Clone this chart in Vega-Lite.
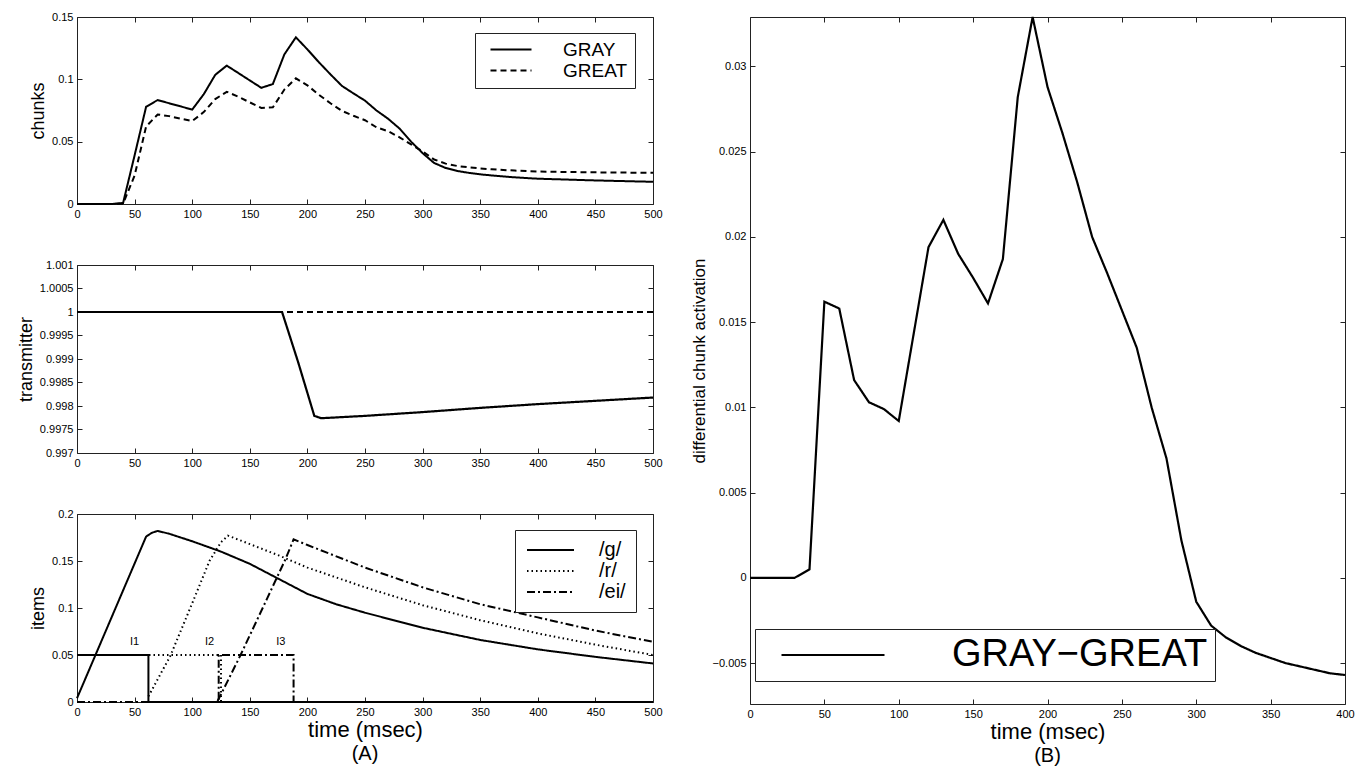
{
  "$schema": "https://vega.github.io/schema/vega-lite/v6.json",
  "background": "white",
  "padding": {"left": 16, "top": 10, "right": 0, "bottom": 0},
  "config": {
    "font": "Liberation Sans",
    "view": {"stroke": "#222", "strokeWidth": 1},
    "axis": {
      "domain": false, "grid": false, "ticks": true, "tickColor": "#222", "tickSize": 5, "tickWidth": 1, "offset": -5,
      "labelFont": "Liberation Sans", "labelFontSize": 11, "labelColor": "black", "labelFlush": false, "labelOverlap": false,
      "labelPadding": 4, "titleFont": "Liberation Sans", "titleFontSize": 18, "titleFontWeight": "normal",
      "titleColor": "black", "titlePadding": 4
    },
    "legend": {
      "title": null, "strokeColor": "#222", "fillColor": "white", "symbolStrokeColor": "black",
      "symbolStrokeWidth": 2, "symbolFillColor": "transparent", "labelFont": "Liberation Sans", "labelColor": "black",
      "rowPadding": 1, "labelLimit": 0
    },
    "title": {"font": "Liberation Sans", "fontWeight": "normal", "color": "black", "fontSize": 20}
  },
  "datasets": {
    "chunks": [
      {"t": 0, "series": "GRAY", "v": 0}, {"t": 10, "series": "GRAY", "v": 0}, {"t": 20, "series": "GRAY", "v": 0},
      {"t": 30, "series": "GRAY", "v": 0}, {"t": 40, "series": "GRAY", "v": 0.0008}, {"t": 50, "series": "GRAY", "v": 0.039},
      {"t": 60, "series": "GRAY", "v": 0.078}, {"t": 70, "series": "GRAY", "v": 0.0834}, {"t": 80, "series": "GRAY", "v": 0.0808},
      {"t": 90, "series": "GRAY", "v": 0.0783}, {"t": 100, "series": "GRAY", "v": 0.0757}, {"t": 110, "series": "GRAY", "v": 0.088},
      {"t": 120, "series": "GRAY", "v": 0.1036}, {"t": 130, "series": "GRAY", "v": 0.111}, {"t": 140, "series": "GRAY", "v": 0.1051},
      {"t": 150, "series": "GRAY", "v": 0.0991}, {"t": 160, "series": "GRAY", "v": 0.0932}, {"t": 170, "series": "GRAY", "v": 0.0962},
      {"t": 180, "series": "GRAY", "v": 0.12}, {"t": 190, "series": "GRAY", "v": 0.1337}, {"t": 200, "series": "GRAY", "v": 0.124},
      {"t": 210, "series": "GRAY", "v": 0.1137}, {"t": 220, "series": "GRAY", "v": 0.104}, {"t": 230, "series": "GRAY", "v": 0.0947},
      {"t": 240, "series": "GRAY", "v": 0.0887}, {"t": 250, "series": "GRAY", "v": 0.0829}, {"t": 260, "series": "GRAY", "v": 0.075},
      {"t": 270, "series": "GRAY", "v": 0.0684}, {"t": 280, "series": "GRAY", "v": 0.0605}, {"t": 290, "series": "GRAY", "v": 0.05},
      {"t": 300, "series": "GRAY", "v": 0.0408}, {"t": 310, "series": "GRAY", "v": 0.0329}, {"t": 320, "series": "GRAY", "v": 0.0289},
      {"t": 330, "series": "GRAY", "v": 0.0265}, {"t": 340, "series": "GRAY", "v": 0.025}, {"t": 350, "series": "GRAY", "v": 0.0238},
      {"t": 360, "series": "GRAY", "v": 0.0229}, {"t": 370, "series": "GRAY", "v": 0.0221}, {"t": 380, "series": "GRAY", "v": 0.0214},
      {"t": 390, "series": "GRAY", "v": 0.0208}, {"t": 400, "series": "GRAY", "v": 0.0203}, {"t": 450, "series": "GRAY", "v": 0.0189},
      {"t": 500, "series": "GRAY", "v": 0.0178},
      {"t": 0, "series": "GREAT", "v": 0}, {"t": 10, "series": "GREAT", "v": 0}, {"t": 20, "series": "GREAT", "v": 0},
      {"t": 30, "series": "GREAT", "v": 0}, {"t": 40, "series": "GREAT", "v": 0.0003}, {"t": 50, "series": "GREAT", "v": 0.0228},
      {"t": 60, "series": "GREAT", "v": 0.0622}, {"t": 70, "series": "GREAT", "v": 0.0718}, {"t": 80, "series": "GREAT", "v": 0.0705},
      {"t": 90, "series": "GREAT", "v": 0.0684}, {"t": 100, "series": "GREAT", "v": 0.0665}, {"t": 110, "series": "GREAT", "v": 0.0737},
      {"t": 120, "series": "GREAT", "v": 0.0842}, {"t": 130, "series": "GREAT", "v": 0.09}, {"t": 140, "series": "GREAT", "v": 0.0861},
      {"t": 150, "series": "GREAT", "v": 0.0815}, {"t": 160, "series": "GREAT", "v": 0.0771}, {"t": 170, "series": "GREAT", "v": 0.0775},
      {"t": 180, "series": "GREAT", "v": 0.0918}, {"t": 190, "series": "GREAT", "v": 0.1008}, {"t": 200, "series": "GREAT", "v": 0.0952},
      {"t": 210, "series": "GREAT", "v": 0.0876}, {"t": 220, "series": "GREAT", "v": 0.0808}, {"t": 230, "series": "GREAT", "v": 0.0747},
      {"t": 240, "series": "GREAT", "v": 0.0708}, {"t": 250, "series": "GREAT", "v": 0.0672}, {"t": 260, "series": "GREAT", "v": 0.0615},
      {"t": 270, "series": "GREAT", "v": 0.0584}, {"t": 280, "series": "GREAT", "v": 0.0535}, {"t": 290, "series": "GREAT", "v": 0.0478},
      {"t": 300, "series": "GREAT", "v": 0.0422}, {"t": 310, "series": "GREAT", "v": 0.0357}, {"t": 320, "series": "GREAT", "v": 0.0324},
      {"t": 330, "series": "GREAT", "v": 0.0305}, {"t": 340, "series": "GREAT", "v": 0.0294}, {"t": 350, "series": "GREAT", "v": 0.0285},
      {"t": 360, "series": "GREAT", "v": 0.0279}, {"t": 370, "series": "GREAT", "v": 0.0273}, {"t": 380, "series": "GREAT", "v": 0.0268},
      {"t": 390, "series": "GREAT", "v": 0.0264}, {"t": 400, "series": "GREAT", "v": 0.026}, {"t": 450, "series": "GREAT", "v": 0.0254},
      {"t": 500, "series": "GREAT", "v": 0.025}
    ],
    "transmitter": [
      {"series": "GRAY", "t": 0, "v": 1}, {"series": "GRAY", "t": 178, "v": 1}, {"series": "GRAY", "t": 192, "v": 0.99893},
      {"series": "GRAY", "t": 206, "v": 0.99779}, {"series": "GRAY", "t": 212, "v": 0.99774}, {"series": "GRAY", "t": 250, "v": 0.99779},
      {"series": "GRAY", "t": 300, "v": 0.99787}, {"series": "GRAY", "t": 350, "v": 0.99796}, {"series": "GRAY", "t": 400, "v": 0.99804},
      {"series": "GRAY", "t": 450, "v": 0.99811}, {"series": "GRAY", "t": 500, "v": 0.99818},
      {"series": "GREAT", "t": 0, "v": 1}, {"series": "GREAT", "t": 500, "v": 1}
    ],
    "items": [
      {"line": "g", "series": "/g/", "i": 0, "t": 0, "v": 0.004}, {"line": "g", "series": "/g/", "i": 1, "t": 60, "v": 0.176},
      {"line": "g", "series": "/g/", "i": 2, "t": 65, "v": 0.18}, {"line": "g", "series": "/g/", "i": 3, "t": 70, "v": 0.182},
      {"line": "g", "series": "/g/", "i": 4, "t": 80, "v": 0.179}, {"line": "g", "series": "/g/", "i": 5, "t": 100, "v": 0.171},
      {"line": "g", "series": "/g/", "i": 6, "t": 125, "v": 0.16}, {"line": "g", "series": "/g/", "i": 7, "t": 150, "v": 0.147},
      {"line": "g", "series": "/g/", "i": 8, "t": 175, "v": 0.131}, {"line": "g", "series": "/g/", "i": 9, "t": 200, "v": 0.115},
      {"line": "g", "series": "/g/", "i": 10, "t": 225, "v": 0.104}, {"line": "g", "series": "/g/", "i": 11, "t": 250, "v": 0.095},
      {"line": "g", "series": "/g/", "i": 12, "t": 275, "v": 0.087}, {"line": "g", "series": "/g/", "i": 13, "t": 300, "v": 0.079},
      {"line": "g", "series": "/g/", "i": 14, "t": 350, "v": 0.066}, {"line": "g", "series": "/g/", "i": 15, "t": 400, "v": 0.056},
      {"line": "g", "series": "/g/", "i": 16, "t": 450, "v": 0.048}, {"line": "g", "series": "/g/", "i": 17, "t": 500, "v": 0.041},
      {"line": "r", "series": "/r/", "i": 0, "t": 62, "v": 0.006}, {"line": "r", "series": "/r/", "i": 1, "t": 81, "v": 0.049},
      {"line": "r", "series": "/r/", "i": 2, "t": 100, "v": 0.105}, {"line": "r", "series": "/r/", "i": 3, "t": 115, "v": 0.15},
      {"line": "r", "series": "/r/", "i": 4, "t": 125, "v": 0.17}, {"line": "r", "series": "/r/", "i": 5, "t": 131, "v": 0.177},
      {"line": "r", "series": "/r/", "i": 6, "t": 150, "v": 0.168}, {"line": "r", "series": "/r/", "i": 7, "t": 175, "v": 0.156},
      {"line": "r", "series": "/r/", "i": 8, "t": 200, "v": 0.143}, {"line": "r", "series": "/r/", "i": 9, "t": 250, "v": 0.122},
      {"line": "r", "series": "/r/", "i": 10, "t": 300, "v": 0.103}, {"line": "r", "series": "/r/", "i": 11, "t": 350, "v": 0.087},
      {"line": "r", "series": "/r/", "i": 12, "t": 400, "v": 0.073}, {"line": "r", "series": "/r/", "i": 13, "t": 450, "v": 0.061},
      {"line": "r", "series": "/r/", "i": 14, "t": 500, "v": 0.05},
      {"line": "ei", "series": "/ei/", "i": 0, "t": 122, "v": 0.001}, {"line": "ei", "series": "/ei/", "i": 1, "t": 127, "v": 0.013},
      {"line": "ei", "series": "/ei/", "i": 2, "t": 142, "v": 0.05}, {"line": "ei", "series": "/ei/", "i": 3, "t": 165, "v": 0.11},
      {"line": "ei", "series": "/ei/", "i": 4, "t": 181, "v": 0.152}, {"line": "ei", "series": "/ei/", "i": 5, "t": 188, "v": 0.173},
      {"line": "ei", "series": "/ei/", "i": 6, "t": 200, "v": 0.167}, {"line": "ei", "series": "/ei/", "i": 7, "t": 250, "v": 0.143},
      {"line": "ei", "series": "/ei/", "i": 8, "t": 300, "v": 0.122}, {"line": "ei", "series": "/ei/", "i": 9, "t": 350, "v": 0.104},
      {"line": "ei", "series": "/ei/", "i": 10, "t": 400, "v": 0.09}, {"line": "ei", "series": "/ei/", "i": 11, "t": 450, "v": 0.076},
      {"line": "ei", "series": "/ei/", "i": 12, "t": 500, "v": 0.064},
      {"line": "I1", "series": "/g/", "i": 0, "t": 0, "v": 0.05}, {"line": "I1", "series": "/g/", "i": 1, "t": 62, "v": 0.05},
      {"line": "I1", "series": "/g/", "i": 2, "t": 62, "v": 0}, {"line": "I1", "series": "/g/", "i": 3, "t": 500, "v": 0},
      {"line": "I2", "series": "/r/", "i": 0, "t": 0, "v": 0.05}, {"line": "I2", "series": "/r/", "i": 1, "t": 125, "v": 0.05},
      {"line": "I2", "series": "/r/", "i": 2, "t": 125, "v": 0}, {"line": "I2", "series": "/r/", "i": 3, "t": 500, "v": 0},
      {"line": "I3", "series": "/ei/", "i": 0, "t": 0, "v": 0}, {"line": "I3", "series": "/ei/", "i": 1, "t": 123, "v": 0},
      {"line": "I3", "series": "/ei/", "i": 2, "t": 123, "v": 0.05}, {"line": "I3", "series": "/ei/", "i": 3, "t": 188, "v": 0.05},
      {"line": "I3", "series": "/ei/", "i": 4, "t": 188, "v": 0}, {"line": "I3", "series": "/ei/", "i": 5, "t": 500, "v": 0}
    ],
    "inputLabels": [
      {"t": 50, "v": 0.059, "label": "I1"}, {"t": 115, "v": 0.059, "label": "I2"}, {"t": 177, "v": 0.059, "label": "I3"}
    ],
    "diff": [
      {"t": 0, "series": "GRAY−GREAT", "v": 0}, {"t": 10, "series": "GRAY−GREAT", "v": 0}, {"t": 20, "series": "GRAY−GREAT", "v": 0},
      {"t": 30, "series": "GRAY−GREAT", "v": 0}, {"t": 40, "series": "GRAY−GREAT", "v": 0.0005}, {"t": 50, "series": "GRAY−GREAT", "v": 0.0162},
      {"t": 60, "series": "GRAY−GREAT", "v": 0.0158}, {"t": 70, "series": "GRAY−GREAT", "v": 0.0116}, {"t": 80, "series": "GRAY−GREAT", "v": 0.0103},
      {"t": 90, "series": "GRAY−GREAT", "v": 0.0099}, {"t": 100, "series": "GRAY−GREAT", "v": 0.0092}, {"t": 120, "series": "GRAY−GREAT", "v": 0.0194},
      {"t": 130, "series": "GRAY−GREAT", "v": 0.021}, {"t": 140, "series": "GRAY−GREAT", "v": 0.019}, {"t": 150, "series": "GRAY−GREAT", "v": 0.0176},
      {"t": 160, "series": "GRAY−GREAT", "v": 0.0161}, {"t": 170, "series": "GRAY−GREAT", "v": 0.0187}, {"t": 180, "series": "GRAY−GREAT", "v": 0.0282},
      {"t": 190, "series": "GRAY−GREAT", "v": 0.0329}, {"t": 200, "series": "GRAY−GREAT", "v": 0.0288}, {"t": 210, "series": "GRAY−GREAT", "v": 0.0261},
      {"t": 220, "series": "GRAY−GREAT", "v": 0.0232}, {"t": 230, "series": "GRAY−GREAT", "v": 0.02}, {"t": 240, "series": "GRAY−GREAT", "v": 0.0179},
      {"t": 250, "series": "GRAY−GREAT", "v": 0.0157}, {"t": 260, "series": "GRAY−GREAT", "v": 0.0135}, {"t": 270, "series": "GRAY−GREAT", "v": 0.01},
      {"t": 280, "series": "GRAY−GREAT", "v": 0.007}, {"t": 290, "series": "GRAY−GREAT", "v": 0.0022}, {"t": 300, "series": "GRAY−GREAT", "v": -0.0014},
      {"t": 310, "series": "GRAY−GREAT", "v": -0.0028}, {"t": 320, "series": "GRAY−GREAT", "v": -0.0035}, {"t": 330, "series": "GRAY−GREAT", "v": -0.004},
      {"t": 340, "series": "GRAY−GREAT", "v": -0.0044}, {"t": 350, "series": "GRAY−GREAT", "v": -0.0047}, {"t": 360, "series": "GRAY−GREAT", "v": -0.005},
      {"t": 370, "series": "GRAY−GREAT", "v": -0.0052}, {"t": 380, "series": "GRAY−GREAT", "v": -0.0054}, {"t": 390, "series": "GRAY−GREAT", "v": -0.0056},
      {"t": 400, "series": "GRAY−GREAT", "v": -0.0057}
    ]
  },
  "hconcat": [
    {
      "vconcat": [
        {
          "width": 576, "height": 187,
          "data": {"name": "chunks"},
          "layer": [
            {
              "mark": {"type": "line", "strokeWidth": 2, "color": "black"},
              "encoding": {
                "x": {"field": "t", "type": "quantitative", "scale": {"domain": [0, 500], "nice": false},
                      "axis": {"title": null, "values": [0, 50, 100, 150, 200, 250, 300, 350, 400, 450, 500]}},
                "y": {"field": "v", "type": "quantitative", "scale": {"domain": [0, 0.15], "nice": false},
                      "axis": {"title": "chunks", "values": [0, 0.05, 0.1, 0.15], "format": ".3~g"}},
                "strokeDash": {"field": "series", "type": "nominal",
                  "scale": {"domain": ["GRAY", "GREAT"], "range": [[1, 0], [6, 4]]},
                  "legend": {"orient": "none", "legendX": 398, "legendY": 16, "padding": 7, "labelFontSize": 19,
                             "symbolType": "M-4.1,0H4.1", "symbolSize": 100, "symbolOffset": 19.5, "labelOffset": 42.5}}
              }
            },
            {
              "mark": {"type": "point", "opacity": 0},
              "encoding": {
                "x": {"field": "t", "type": "quantitative",
                      "axis": {"orient": "top", "labels": false, "title": null, "values": [0, 50, 100, 150, 200, 250, 300, 350, 400, 450, 500]}},
                "y": {"field": "v", "type": "quantitative",
                      "axis": {"orient": "right", "labels": false, "title": null, "values": [0, 0.05, 0.1, 0.15]}}
              }
            }
          ],
          "resolve": {"axis": {"x": "independent", "y": "independent"}}
        },
        {
          "width": 576, "height": 188,
          "data": {"name": "transmitter"},
          "layer": [
            {
              "mark": {"type": "line", "strokeWidth": 2.2, "color": "black"},
              "encoding": {
                "x": {"field": "t", "type": "quantitative", "scale": {"domain": [0, 500], "nice": false},
                      "axis": {"title": null, "values": [0, 50, 100, 150, 200, 250, 300, 350, 400, 450, 500]}},
                "y": {"field": "v", "type": "quantitative", "scale": {"domain": [0.997, 1.001], "nice": false, "zero": false},
                      "axis": {"title": "transmitter", "values": [0.997, 0.9975, 0.998, 0.9985, 0.999, 0.9995, 1, 1.0005, 1.001], "format": ".5~g"}},
                "strokeDash": {"field": "series", "type": "nominal",
                  "scale": {"domain": ["GRAY", "GREAT"], "range": [[1, 0], [6, 4]]}, "legend": null}
              }
            },
            {
              "mark": {"type": "point", "opacity": 0},
              "encoding": {
                "x": {"field": "t", "type": "quantitative",
                      "axis": {"orient": "top", "labels": false, "title": null, "values": [0, 50, 100, 150, 200, 250, 300, 350, 400, 450, 500]}},
                "y": {"field": "v", "type": "quantitative",
                      "axis": {"orient": "right", "labels": false, "title": null, "values": [0.997, 0.9975, 0.998, 0.9985, 0.999, 0.9995, 1, 1.0005, 1.001]}}
              }
            }
          ],
          "resolve": {"axis": {"x": "independent", "y": "independent"}}
        },
        {
          "width": 576, "height": 188,
          "title": {"text": "(A)", "orient": "bottom", "anchor": "middle", "frame": "group", "fontSize": 20, "offset": 4},
          "layer": [
            {
              "data": {"name": "items"},
              "mark": {"type": "line", "strokeWidth": 2, "color": "black"},
              "encoding": {
                "x": {"field": "t", "type": "quantitative", "scale": {"domain": [0, 500], "nice": false},
                      "axis": {"title": "time (msec)", "titleFontSize": 22, "titlePadding": 2, "values": [0, 50, 100, 150, 200, 250, 300, 350, 400, 450, 500]}},
                "y": {"field": "v", "type": "quantitative", "scale": {"domain": [0, 0.2], "nice": false},
                      "axis": {"title": "items", "values": [0, 0.05, 0.1, 0.15, 0.2], "format": ".3~g"}},
                "strokeDash": {"field": "series", "type": "nominal",
                  "scale": {"domain": ["/g/", "/r/", "/ei/"], "range": [[1, 0], [1.5, 3], [8, 3, 2, 3]]},
                  "legend": {"orient": "none", "legendX": 438, "legendY": 16, "padding": 10, "labelFontSize": 20,
                             "symbolType": "M-4.7,0H4.7", "symbolSize": 100, "symbolOffset": 15.5, "labelOffset": 38.5}},
                "detail": {"field": "line"},
                "order": {"field": "i", "type": "quantitative"}
              }
            },
            {
              "data": {"name": "inputLabels"},
              "mark": {"type": "text", "fontSize": 11, "color": "black", "baseline": "bottom"},
              "encoding": {
                "x": {"field": "t", "type": "quantitative", "axis": null},
                "y": {"field": "v", "type": "quantitative", "axis": null},
                "text": {"field": "label"}
              }
            },
            {
              "data": {"name": "inputLabels"},
              "mark": {"type": "point", "opacity": 0},
              "encoding": {
                "x": {"field": "t", "type": "quantitative",
                      "axis": {"orient": "top", "labels": false, "title": null, "values": [0, 50, 100, 150, 200, 250, 300, 350, 400, 450, 500]}},
                "y": {"field": "v", "type": "quantitative",
                      "axis": {"orient": "right", "labels": false, "title": null, "values": [0, 0.05, 0.1, 0.15, 0.2]}}
              }
            }
          ],
          "resolve": {"axis": {"x": "independent", "y": "independent"}}
        }
      ],
      "spacing": 38,
      "resolve": {"scale": {"strokeDash": "independent"}, "legend": {"strokeDash": "independent"}}
    },
    {
      "width": 595, "height": 687,
      "data": {"name": "diff"},
      "title": {"text": "(B)", "orient": "bottom", "anchor": "middle", "frame": "group", "fontSize": 20, "offset": 4},
      "layer": [
        {
          "mark": {"type": "line", "strokeWidth": 2.2, "color": "black"},
          "encoding": {
            "x": {"field": "t", "type": "quantitative", "scale": {"domain": [0, 400], "nice": false},
                  "axis": {"title": "time (msec)", "titleFontSize": 22, "titlePadding": 2, "values": [0, 50, 100, 150, 200, 250, 300, 350, 400]}},
            "y": {"field": "v", "type": "quantitative", "scale": {"domain": [-0.0074, 0.0329], "nice": false, "zero": false},
                  "axis": {"title": "differential chunk activation", "titleFontSize": 17,
                           "values": [-0.005, 0, 0.005, 0.01, 0.015, 0.02, 0.025, 0.03], "format": ".3~g"}},
            "strokeDash": {"field": "series", "type": "nominal",
              "scale": {"domain": ["GRAY−GREAT"], "range": [[1, 0]]},
              "legend": {"orient": "none", "legendX": 5, "legendY": 612, "padding": 7, "labelFontSize": 38,
                         "symbolType": "M-10.3,0H10.3", "symbolSize": 100, "symbolOffset": 52, "labelOffset": 100}}
          }
        },
        {
          "mark": {"type": "point", "opacity": 0},
          "encoding": {
            "x": {"field": "t", "type": "quantitative",
                  "axis": {"orient": "top", "labels": false, "title": null, "values": [0, 50, 100, 150, 200, 250, 300, 350, 400]}},
            "y": {"field": "v", "type": "quantitative",
                  "axis": {"orient": "right", "labels": false, "title": null, "values": [-0.005, 0, 0.005, 0.01, 0.015, 0.02, 0.025, 0.03]}}
          }
        }
      ],
      "resolve": {"axis": {"x": "independent", "y": "independent"}}
    }
  ],
  "spacing": 26,
  "align": "each",
  "resolve": {"scale": {"strokeDash": "independent"}, "legend": {"strokeDash": "independent"}}
}
